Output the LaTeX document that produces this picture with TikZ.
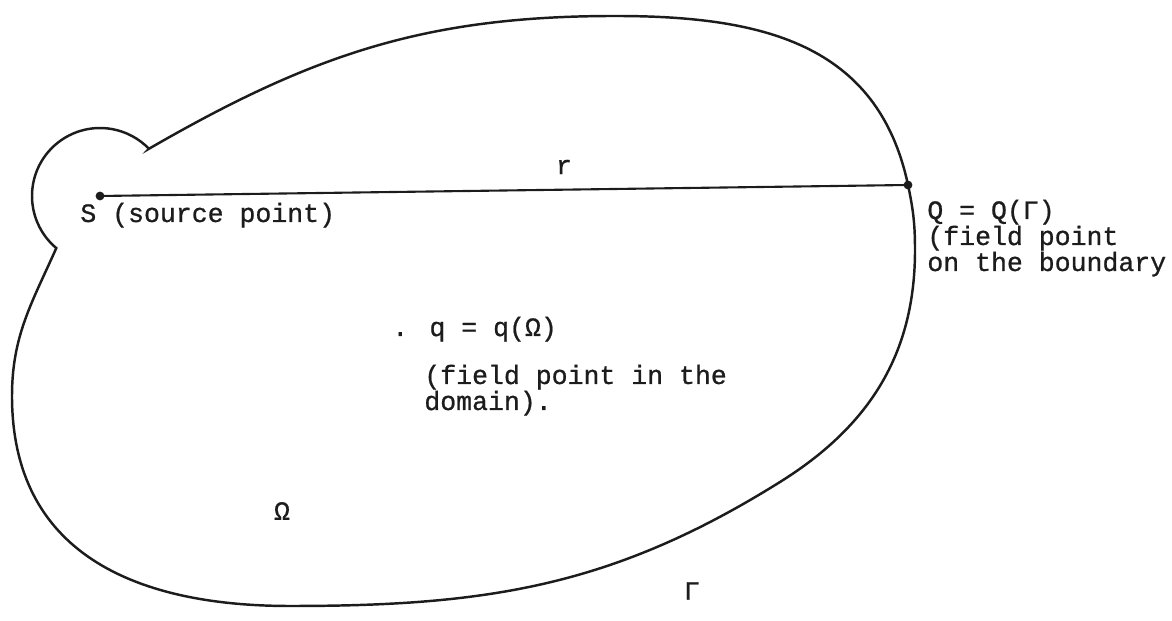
\documentclass[tikz,border=0pt]{standalone}
\usepackage{fontspec}
\newfontfamily\twfont[FakeBold=0.8]{Liberation Mono}
\definecolor{ink}{RGB}{28,28,28}
\begin{document}
\begin{tikzpicture}[x=0.02cm,y=0.02cm,
  txt/.style={font=\twfont\fontsize{15.1pt}{15pt}\selectfont, inner sep=0pt, anchor=base west, text=ink},
  sym/.style={font=\twfont\fontsize{15.1pt}{15pt}\selectfont, inner sep=0pt, text=ink},
  outline/.style={draw=ink, line width=1.4pt, line join=miter},
  ray/.style={draw=ink, line width=1.2pt},
  dotpt/.style={circle, fill=ink, inner sep=0pt, minimum size=5pt}]
\useasboundingbox (0,0) rectangle (1172,621);
% boundary Gamma with the small circular indentation round S
\coordinate (U) at (148.9,472.2);
\coordinate (T) at (615,605);
\coordinate (Qb) at (908,436);
\coordinate (R1) at (915,371);
\coordinate (M) at (780,139);
\coordinate (B) at (290,15);
\coordinate (Lf) at (12,225);
\coordinate (L) at (56.3,372.9);
\draw[outline] (U) to[out=30, in=180] (T)
  to[out=0, in=102, looseness=1.1] (Qb)
  to[out=-78, in=90] (R1)
  to[out=-90, in=32] (M)
  to[out=212, in=0] (B)
  to[out=180, in=-90, looseness=1.15] (Lf)
  to[out=90, in=246] (L)
  arc[start angle=230, end angle=44, radius=68] -- cycle;
% source point, field point and r
\node[dotpt] (S) at (100,425) {};
\node[dotpt] (Q) at (908,436) {};
\draw[ray] (S.center) -- (Q.center);
\node[sym] (r) at (564,454) {r};
\node[txt] (slab) at (80,399) {S (source point)};
\node[txt] (qa) at (927,402) {Q = Q(Γ)};
\node[txt] (qb) at (927,376) {(field point};
\node[txt] (qc) at (927,350) {on the boundary};
\node[txt] (pa) at (392,285) {. q = q(Ω)};
\node[txt] (pb) at (424,237) {(field point in the};
\node[txt] (pc) at (424,211) {domain).};
\node[sym] (om) at (282,110) {Ω};
\node[sym] (ga) at (692,30) {Γ};
\end{tikzpicture}
\end{document}
